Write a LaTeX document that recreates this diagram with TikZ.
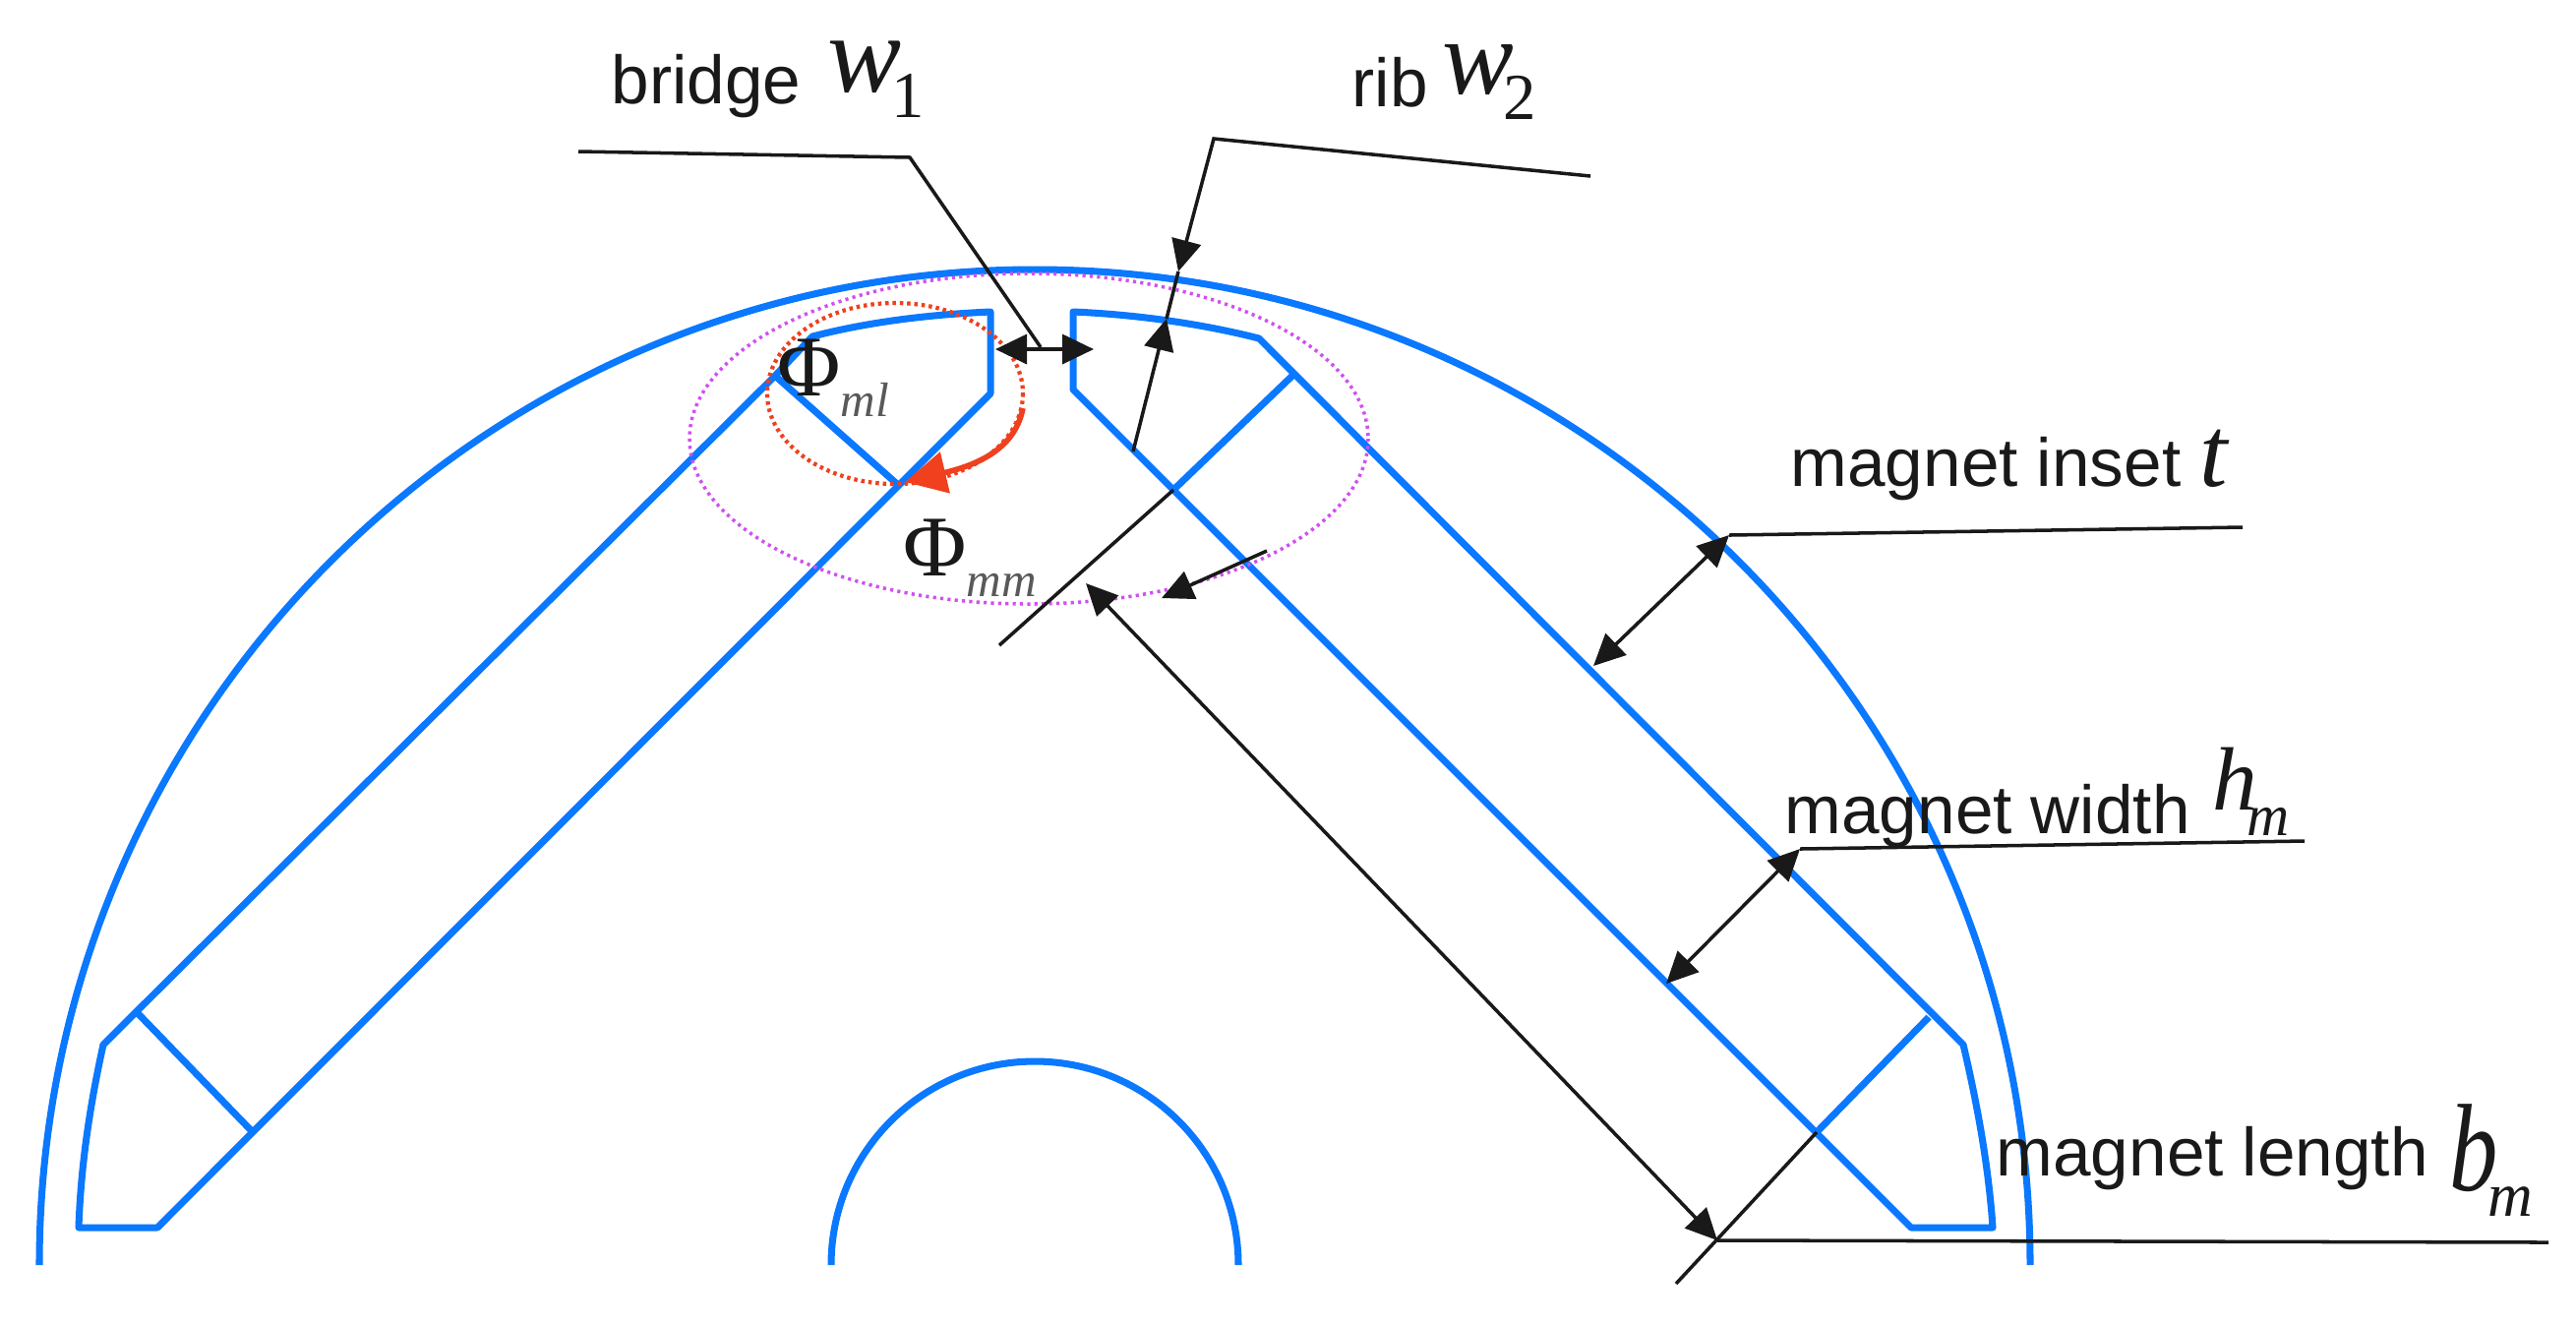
\documentclass[tikz,border=0pt]{standalone}
\usepackage{fontspec}
\usepackage{graphicx}
\setmainfont{Liberation Sans}
\newfontfamily\serifvar{Liberation Serif}
\usetikzlibrary{arrows.meta}
\definecolor{rotorblue}{HTML}{0A78FF}
\definecolor{leakred}{HTML}{F0401E}
\definecolor{fluxpink}{HTML}{D050F0}
\newcommand{\varsym}[5][1]{\scalebox{#1}[1]{\serifvar\fontsize{#2}{#2}\selectfont\itshape #3}\kern-3pt\raisebox{-7.5pt}{\serifvar\fontsize{#4}{#4}\selectfont #5}}
\newcommand{\fluxsym}[1]{{\serifvar\fontsize{25}{25}\selectfont \char"03A6}\raisebox{-6pt}{\serifvar\fontsize{14}{14}\selectfont\itshape\color{black!65}#1}}

\begin{document}
\begin{tikzpicture}[x=0.01cm, y=-0.01cm,
    rotor/.style={draw=rotorblue, line width=2pt, line join=round},
    lead/.style={draw=black!90, line width=1pt},
    dim/.style={lead, {Triangle[length=0.32cm,width=0.3cm]}-{Triangle[length=0.32cm,width=0.3cm]}},
    tip/.style={lead, -{Triangle[length=0.32cm,width=0.3cm]}},
    lbl/.style={anchor=base west, inner sep=0pt, font=\fontsize{19.7}{20}\selectfont, text=black!90},
    vr/.style={anchor=base west, inner sep=0pt, text=black!90}]
    \useasboundingbox (0,0) rectangle (2619,1344);

    % rotor outline
    \draw[rotor] (40,1286) arc[start angle=180, end angle=360, radius=1012];
    \draw[rotor] (845,1286) arc[start angle=180, end angle=360, radius=207];

    % left slot
    \draw[rotor] (80,1248) -- (160,1248) -- (1007,400) -- (1007,317)
        .. controls (940,320) and (880,328) .. (826,342) -- (788,382) -- (105,1062)
        .. controls (90,1130) and (82,1190) .. cycle;
    \draw[rotor] (788,382) -- (912,492);
    \draw[rotor] (140,1030) -- (257,1151);

    % right slot
    \draw[rotor] (1091,396) -- (1091,317)
        .. controls (1160,320) and (1225,330) .. (1280,344) -- (1996,1062)
        .. controls (2012,1130) and (2022,1190) .. (2026,1248) -- (1943,1248) -- cycle;
    \draw[rotor] (1316,380) -- (1193,498);
    \draw[rotor] (1961,1034) -- (1847,1151);

    % flux paths
    \draw[fluxpink, line width=1pt, dash pattern=on 0.9pt off 1.2pt] (1046,446) ellipse [x radius=345, y radius=168];
    \draw[leakred, line width=1.2pt, dash pattern=on 1pt off 1.1pt] (910,400) ellipse [x radius=130, y radius=92];
    \coordinate (redstart) at (1040,415);
    \coordinate (redtip) at (920,490);
    \draw[leakred, line width=1.6pt, -{Triangle[length=0.42cm,width=0.42cm]}] (redstart)
        .. controls (1033,450) and (1005,470) .. (redtip);

    % leaders and dimensions
    \coordinate (bridgea) at (588,154);
    \coordinate (bridgeb) at (925,160);
    \coordinate (bridgec) at (1058,353);
    \coordinate (gapl) at (1012,355);
    \coordinate (gapr) at (1112,355);
    \draw[lead] (bridgea) -- (bridgeb) -- (bridgec);
    \draw[dim] (gapl) -- (gapr);

    \coordinate (riba) at (1617,179);
    \coordinate (ribb) at (1234,141);
    \coordinate (ribc) at (1198,276);
    \coordinate (ribd) at (1152,459);
    \coordinate (ribe) at (1186,324);
    \draw[tip] (riba) -- (ribb) -- (ribc);
    \draw[tip] (ribd) -- (ribe);
    \draw[lead] (ribe) -- (ribc);

    \coordinate (inseta) at (2280,536);
    \coordinate (insetb) at (1758,544);
    \coordinate (insetc) at (1620,677);
    \draw[lead] (inseta) -- (insetb);
    \draw[dim] (insetb) -- (insetc);

    \coordinate (widtha) at (2343,855);
    \coordinate (widthb) at (1830,863);
    \coordinate (widthc) at (1694,1000);
    \draw[lead] (widtha) -- (widthb);
    \draw[dim] (widthb) -- (widthc);

    \coordinate (lengtha) at (2591,1263);
    \coordinate (lengthb) at (1746,1261);
    \coordinate (lengthc) at (1104,593);
    \coordinate (enda) at (1193,498);
    \coordinate (endb) at (1016,656);
    \coordinate (endc) at (1847,1151);
    \coordinate (endd) at (1704,1305);
    \draw[lead] (lengtha) -- (lengthb);
    \draw[dim] (lengthb) -- (lengthc);
    \draw[lead] (enda) -- (endb);
    \draw[lead] (endc) -- (endd);

    \coordinate (arrowa) at (1288,560);
    \coordinate (arrowb) at (1181,608);
    \draw[tip] (arrowa) -- (arrowb);

    % labels
    \node[lbl] (bridge) at (621,105) {bridge};
    \node[vr] (wone) at (841,93) {\varsym{32}{w}{19}{1}};
    \node[lbl] (rib) at (1374,108) {rib};
    \node[vr] (wtwo) at (1466,95) {\varsym{31}{w}{19}{2}};
    \node[lbl] (inset) at (1820,494) {magnet inset};
    \node[vr] (tvar) at (2236,494) {\varsym{29}{t}{10}{}};
    \node[lbl] (width) at (1814,847) {magnet width};
    \node[vr] (hvar) at (2249,823) {\varsym{26}{h}{17}{\itshape m}};
    \node[lbl] (length) at (2029,1195) {magnet length};
    \node[vr] (bvar) at (2490,1210) {\varsym[0.78]{36}{b}{18}{\itshape m}};
    \node[vr] (phil) at (790,402) {\fluxsym{ml}};
    \node[vr] (phim) at (918,585) {\fluxsym{mm}};
\end{tikzpicture}
\end{document}
